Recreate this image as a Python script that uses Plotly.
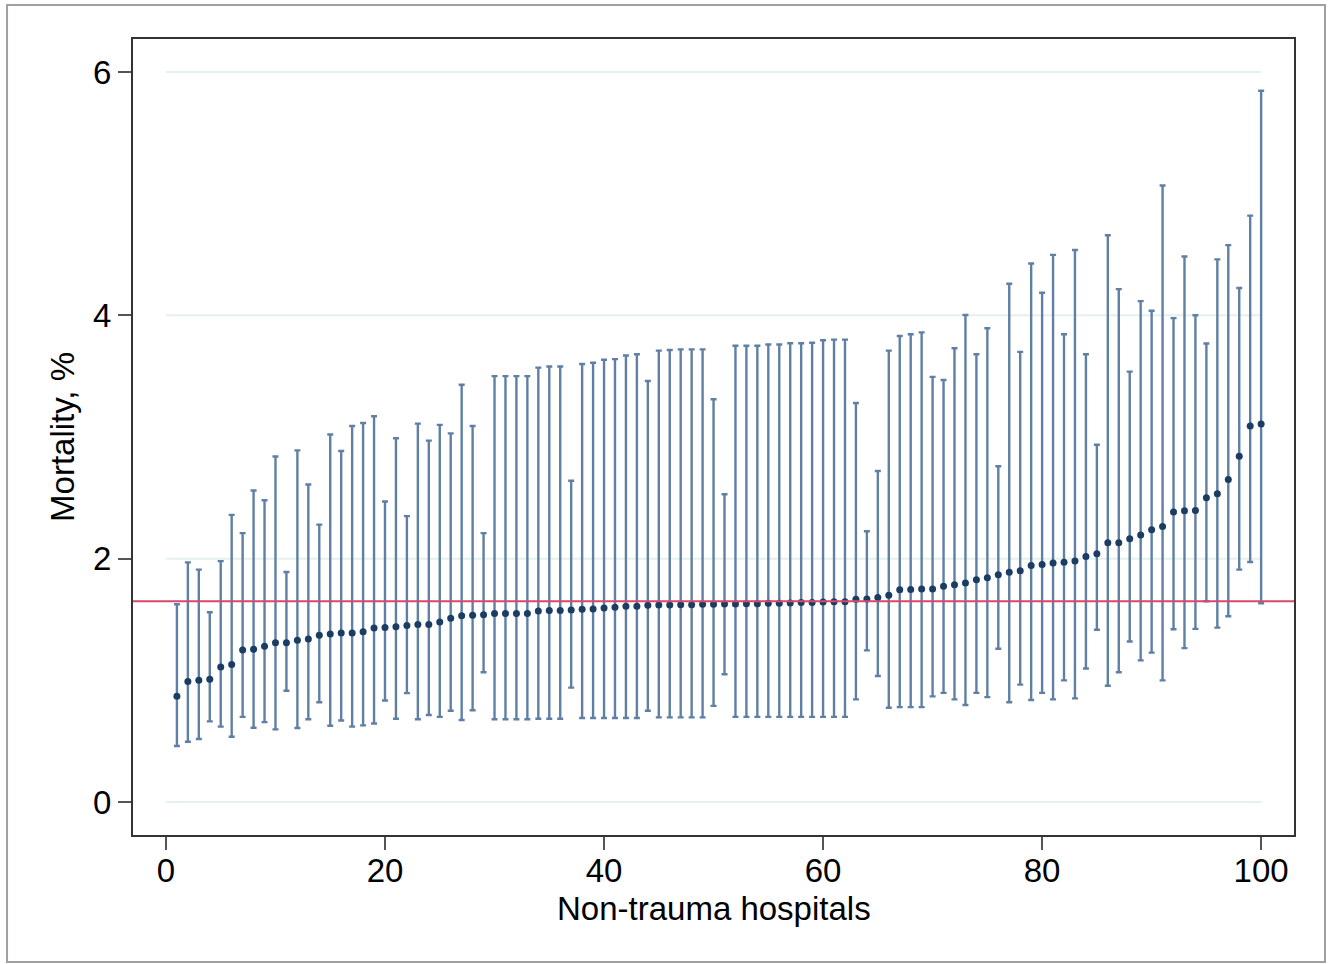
import plotly.graph_objects as go

hospitals = list(range(1, 101))

mortality = [
    0.87, 0.99, 1.00, 1.01, 1.11, 1.13, 1.25, 1.255, 1.28, 1.31,
    1.31, 1.33, 1.34, 1.37, 1.38, 1.39, 1.39, 1.40, 1.43, 1.435,
    1.44, 1.45, 1.46, 1.46, 1.48, 1.51, 1.53, 1.535, 1.54, 1.55,
    1.55, 1.55, 1.55, 1.57, 1.575, 1.575, 1.578, 1.584, 1.586, 1.594,
    1.60, 1.608, 1.61, 1.617, 1.62, 1.62, 1.622, 1.622, 1.625, 1.625,
    1.627, 1.628, 1.63, 1.63, 1.633, 1.633, 1.636, 1.64, 1.64, 1.644,
    1.645, 1.647, 1.666, 1.668, 1.68, 1.70, 1.744, 1.747, 1.75, 1.75,
    1.774, 1.785, 1.80, 1.826, 1.844, 1.868, 1.888, 1.90, 1.944, 1.953,
    1.965, 1.97, 1.98, 2.017, 2.04, 2.13, 2.13, 2.164, 2.195, 2.238,
    2.265, 2.383, 2.393, 2.396, 2.50, 2.534, 2.651, 2.842, 3.09, 3.107,
]

upper_ci = [
    1.625, 1.97, 1.91, 1.56, 1.98, 2.36, 2.21, 2.56, 2.48, 2.84,
    1.89, 2.89, 2.61, 2.28, 3.02, 2.885, 3.09, 3.115, 3.17, 2.47,
    2.99, 2.35, 3.11, 2.97, 3.10, 3.03, 3.43, 3.09, 2.21, 3.50,
    3.50, 3.50, 3.50, 3.57, 3.58, 3.58, 2.64, 3.60, 3.61, 3.635,
    3.64, 3.67, 3.68, 3.46, 3.71, 3.715, 3.72, 3.72, 3.72, 3.31,
    2.53, 3.75, 3.75, 3.75, 3.76, 3.76, 3.77, 3.77, 3.775, 3.795,
    3.80, 3.80, 3.28, 2.225, 2.72, 3.71, 3.83, 3.844, 3.86, 3.494,
    3.468, 3.73, 4.003, 3.68, 3.894, 2.76, 4.26, 3.70, 4.426, 4.185,
    4.497, 3.845, 4.537, 3.68, 2.936, 4.658, 4.215, 3.537, 4.117, 4.037,
    5.067, 3.977, 4.483, 4.00, 3.768, 4.46, 4.577, 4.225, 4.819, 5.846,
]

lower_ci = [
    0.46, 0.496, 0.518, 0.663, 0.62, 0.537, 0.70, 0.61, 0.657, 0.597,
    0.915, 0.608, 0.68, 0.82, 0.627, 0.67, 0.62, 0.63, 0.645, 0.835,
    0.685, 0.895, 0.68, 0.715, 0.70, 0.75, 0.674, 0.754, 1.066, 0.68,
    0.68, 0.68, 0.68, 0.685, 0.685, 0.685, 0.94, 0.69, 0.69, 0.69,
    0.69, 0.69, 0.69, 0.75, 0.696, 0.696, 0.696, 0.696, 0.696, 0.79,
    1.05, 0.70, 0.70, 0.70, 0.70, 0.70, 0.70, 0.70, 0.70, 0.70,
    0.70, 0.70, 0.844, 1.246, 1.036, 0.775, 0.78, 0.78, 0.78, 0.868,
    0.897, 0.844, 0.797, 0.897, 0.862, 1.26, 0.82, 0.965, 0.838, 0.897,
    0.844, 1.00, 0.852, 1.097, 1.416, 0.956, 1.067, 1.319, 1.164, 1.228,
    1.00, 1.42, 1.265, 1.423, 1.65, 1.433, 1.527, 1.91, 1.973, 1.634,
]

overall_mortality = 1.65

x_ticks = [0, 20, 40, 60, 80, 100]
y_ticks = [0, 2, 4, 6]

err_plus = [u - m for u, m in zip(upper_ci, mortality)]
err_minus = [m - l for m, l in zip(mortality, lower_ci)]

fig = go.Figure()

# faint horizontal gridlines spanning the data range only
for yv in y_ticks:
    fig.add_shape(type="line", xref="x", yref="y", x0=x_ticks[0], x1=x_ticks[-1],
                  y0=yv, y1=yv, line=dict(color="#e6f0ee", width=2), layer="below")

fig.add_trace(go.Scatter(
    x=hospitals, y=mortality, mode="markers",
    marker=dict(color="#1c3d63", size=7),
    error_y=dict(type="data", symmetric=False, array=err_plus, arrayminus=err_minus,
                 color="#5f80a4", thickness=2.4, width=3),
    showlegend=False, hoverinfo="skip",
))

# reference line
fig.add_shape(type="line", xref="paper", yref="y", x0=0, x1=1,
              y0=overall_mortality, y1=overall_mortality,
              line=dict(color="#d9486a", width=2))

# outer frame
fig.add_shape(type="rect", xref="paper", yref="paper",
              x0=-0.1085, x1=1.0267, y0=-0.1595, y1=1.0427,
              line=dict(color="#a0a0a0", width=2))

font = dict(family="Liberation Sans, Arial, Helvetica, sans-serif", color="black")

fig.update_layout(
    width=1336, height=964,
    margin=dict(l=133, r=42, t=39, b=129),
    paper_bgcolor="white", plot_bgcolor="white",
    font=dict(**font, size=33),
    xaxis=dict(range=[-3.01, 103.0], tickvals=x_ticks, showgrid=False, zeroline=False,
               showline=True, mirror=True, linecolor="#333333", linewidth=2,
               ticks="outside", ticklen=13, tickwidth=1.5, tickcolor="#555555",
               ticklabelstandoff=-8,
               tickfont=dict(**font, size=33)),
    yaxis=dict(range=[-0.271, 6.271], tickvals=y_ticks, showgrid=False, zeroline=False,
               showline=True, mirror=True, linecolor="#333333", linewidth=2,
               ticks="outside", ticklen=13, tickwidth=1.5, tickcolor="#555555",
               tickfont=dict(**font, size=33)),
    annotations=[
        dict(text="Non-trauma hospitals", xref="paper", yref="paper", x=0.5, y=-0.092,
             xanchor="center", yanchor="middle", showarrow=False, font=dict(**font, size=33)),
        dict(text="Mortality, %", xref="paper", yref="paper", x=-0.0612, y=0.5,
             xanchor="center", yanchor="middle", textangle=-90, showarrow=False,
             font=dict(**font, size=33)),
    ],
)

fig.write_html("out.html")
